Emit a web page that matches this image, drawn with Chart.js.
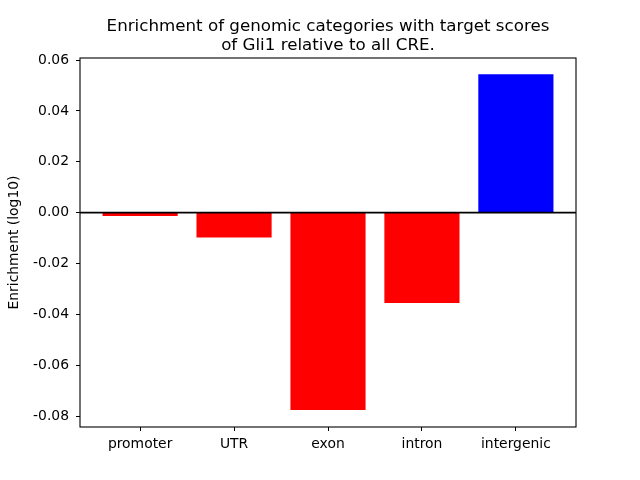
<!DOCTYPE html>
<html>
<head>
<meta charset="utf-8">
<script src="https://cdn.jsdelivr.net/npm/chart.js@4.4.0/dist/chart.umd.min.js"></script>
<style>
  html, body { margin: 0; padding: 0; background: #fff; }
  #wrap { width: 640px; height: 480px; }
</style>
</head>
<body>
<div id="wrap"><canvas id="chart" width="640" height="480"></canvas></div>
<script>
// ---- data ----
const categories = ['promoter', 'UTR', 'exon', 'intron', 'intergenic'];
const enrichment = [-0.0013, -0.0098, -0.0776, -0.0355, 0.0544];
const yTicks = [-0.08, -0.06, -0.04, -0.02, 0.00, 0.02, 0.04, 0.06];
const titleLines = ['Enrichment of genomic categories with target scores', 'of Gli1 relative to all CRE.'];

const FONT = 'DejaVu Sans';

// frame + zero line, like matplotlib spines and axhline; title centred over the axes
const framePlugin = {
    id: 'frame',
    afterDatasetsDraw(chart) {
        const { ctx, chartArea: a, scales } = chart;
        const y0 = scales.y.getPixelForValue(0);
        ctx.save();
        ctx.strokeStyle = '#000';
        ctx.lineWidth = 1.8;
        ctx.beginPath();
        ctx.moveTo(a.left, y0);
        ctx.lineTo(a.right, y0);
        ctx.stroke();
        ctx.lineWidth = 1.1;
        ctx.strokeRect(a.left, a.top, a.right - a.left, a.bottom - a.top);
        ctx.restore();
    },
    afterDraw(chart) {
        const { ctx, chartArea: a } = chart;
        ctx.save();
        ctx.fillStyle = '#000';
        ctx.font = '16.7px "' + FONT + '"';
        ctx.textAlign = 'center';
        ctx.textBaseline = 'middle';
        const cx = (a.left + a.right) / 2;
        titleLines.forEach((t, i) => ctx.fillText(t, cx, 27 + i * 19));
        ctx.restore();
    }
};

new Chart(document.getElementById('chart').getContext('2d'), {
    type: 'bar',
    data: {
        datasets: [{
            data: enrichment.map((v, i) => ({ x: i, y: v })),
            backgroundColor: enrichment.map(v => v < 0 ? '#ff0000' : '#0000ff'),
            borderWidth: 0,
            barPercentage: 0.8,
            categoryPercentage: 1.0
        }]
    },
    options: {
        responsive: false,
        animation: false,
        layout: { padding: { left: 0, right: 64, top: 58, bottom: 0 } },
        plugins: {
            legend: { display: false },
            tooltip: { enabled: false },
            title: { display: false }
        },
        scales: {
            x: {
                type: 'linear',
                min: -0.64,
                max: 4.64,
                offset: false,
                afterBuildTicks: s => { s.ticks = categories.map((c, i) => ({ value: i })); },
                afterFit: s => { s.height = 53; },
                grid: { display: true, drawOnChartArea: false, drawTicks: true, tickLength: 4, tickColor: '#000', offset: false },
                border: { display: false },
                ticks: {
                    color: '#000',
                    font: { family: FONT, size: 13.9 },
                    padding: 5,
                    maxRotation: 0,
                    callback: v => categories[v]
                }
            },
            y: {
                min: -0.0843,
                max: 0.0608,
                afterBuildTicks: s => { s.ticks = yTicks.map(v => ({ value: v })); },
                afterFit: s => { s.width = 80; },
                grid: { display: true, drawOnChartArea: false, drawTicks: true, tickLength: 4, tickColor: '#000' },
                border: { display: false },
                ticks: {
                    color: '#000',
                    font: { family: FONT, size: 13.9 },
                    padding: 7,
                    callback: v => v.toFixed(2)
                },
                title: {
                    display: true,
                    text: 'Enrichment (log10)',
                    color: '#000',
                    font: { family: FONT, size: 13.9 },
                    padding: { top: 6, bottom: 0 }
                }
            }
        }
    },
    plugins: [framePlugin]
});
</script>
</body>
</html>
